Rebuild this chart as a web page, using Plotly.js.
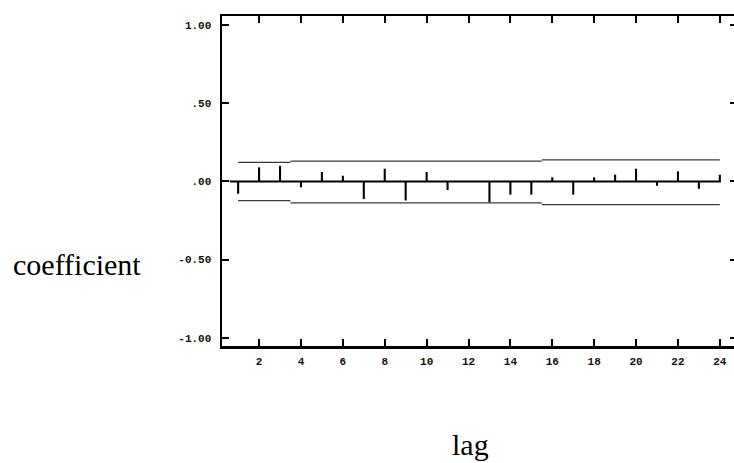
<!DOCTYPE html>
<html>
<head>
<meta charset="utf-8">
<script src="https://cdn.plot.ly/plotly-3.0.1.min.js"></script>
<style>
  html, body { margin: 0; padding: 0; overflow: hidden; background: #fff; }
  #chart { width: 740px; height: 463px; }
</style>
</head>
<body>
<div id="chart"></div>
<script>
// ---- data ----
const lags = [1, 2, 3, 4, 5, 6, 7, 8, 9, 10, 11, 12, 13, 14, 15, 16, 17, 18, 19, 20, 21, 22, 23, 24];
const acf  = [-0.079, 0.090, 0.100, -0.038, 0.060, 0.036, -0.113, 0.081, -0.122, 0.060, -0.055, 0.0,
              -0.134, -0.085, -0.085, 0.026, -0.085, 0.026, 0.043, 0.081, -0.028, 0.064, -0.047, 0.043];
// confidence band: segment boundaries (lag) and levels per segment
const bandBreaks = [1, 3.5, 15.5, 24];
const upperBand  = [0.122, 0.130, 0.137];
const lowerBand  = [-0.123, -0.138, -0.149];
// axis ticks
const xTickVals = [2, 4, 6, 8, 10, 12, 14, 16, 18, 20, 22, 24];
const yTickVals = [-1, -0.5, 0, 0.5, 1];
const yTickText = ['-1.00', '-0.50', '.00', '.50', '1.00'];

// ---- build band segments ----
function segments(levels) {
  const xs = [], ys = [];
  for (let i = 0; i < levels.length; i++) {
    xs.push(bandBreaks[i], bandBreaks[i + 1], null);
    ys.push(levels[i], levels[i], null);
  }
  return { x: xs, y: ys };
}
const up = segments(upperBand);
const lo = segments(lowerBand);

const bandStyle = { color: '#3a3a3a', width: 1.2 };
const traces = [
  { type: 'scatter', mode: 'lines', x: up.x, y: up.y, line: bandStyle, connectgaps: false },
  { type: 'scatter', mode: 'lines', x: lo.x, y: lo.y, line: bandStyle, connectgaps: false },
  { type: 'bar', x: lags, y: acf, width: 0.1, marker: { color: '#000', line: { width: 0 } } }
];

const tickFont = { family: '"Liberation Mono", "Courier New", monospace', size: 11, color: '#111', weight: 'bold' };
const titleFont = { family: '"Liberation Serif", "Times New Roman", serif', size: 30, color: '#000' };

const layout = {
  width: 740, height: 463,
  margin: { l: 222, r: 3, t: 16, b: 117, pad: 0 },
  paper_bgcolor: '#fff', plot_bgcolor: '#fff',
  showlegend: false,
  hovermode: false,
  xaxis: {
    range: [0.23, 24.82],
    tickvals: xTickVals,
    ticktext: xTickVals.map(String),
    ticks: 'inside', ticklen: 7, tickwidth: 2, tickcolor: '#000',
    showline: true, linewidth: 2.5, linecolor: '#000', mirror: 'ticks',
    showgrid: false, zeroline: false,
    tickfont: tickFont, ticklabelstandoff: 3
  },
  yaxis: {
    range: [-1.053, 1.058],
    tickvals: yTickVals,
    ticktext: yTickText,
    ticks: 'inside', ticklen: 7, tickwidth: 2, tickcolor: '#000',
    showline: true, linewidth: 2.5, linecolor: '#000', mirror: 'ticks',
    showgrid: false, zeroline: false,
    tickfont: tickFont, ticklabelstandoff: 6
  },
  shapes: [
    { type: 'line', xref: 'x', yref: 'y', x0: lags[0] - 0.4, x1: lags[lags.length - 1] + 0.05, y0: 0, y1: 0,
      line: { color: '#000', width: 2 }, layer: 'below' }
  ],
  annotations: [
    { text: 'coefficient', xref: 'paper', yref: 'paper', x: -0.2806, y: 0.248,
      xanchor: 'center', yanchor: 'middle', showarrow: false, font: titleFont },
    { text: 'lag', xref: 'paper', yref: 'paper', x: 0.4816, y: -0.298,
      xanchor: 'center', yanchor: 'middle', showarrow: false, font: titleFont }
  ]
};

Plotly.newPlot('chart', traces, layout, { staticPlot: true, displayModeBar: false });
</script>
</body>
</html>
